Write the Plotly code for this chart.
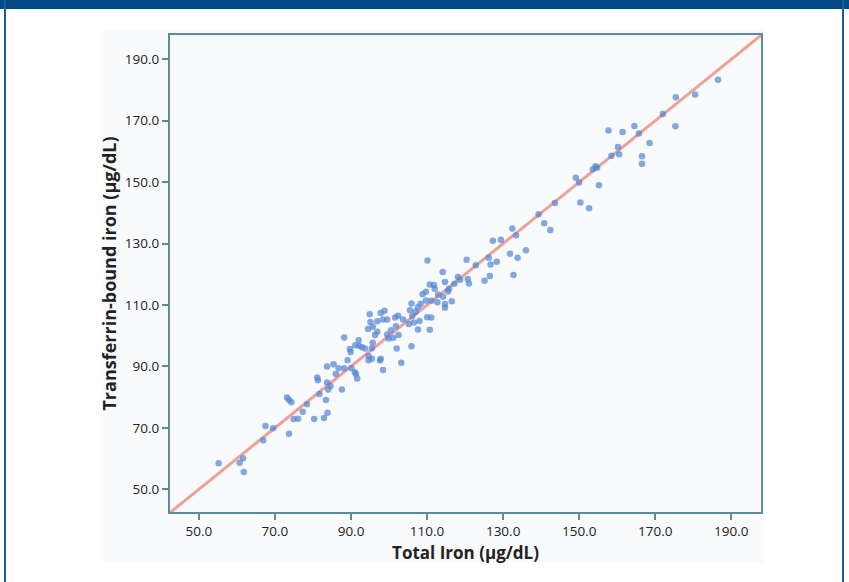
import plotly.graph_objects as go

# Total iron (x) vs transferrin-bound iron (y), µg/dL
total_iron = [
    186.5, 180.5, 175.4, 175.3, 172.0, 164.5, 161.4, 157.7, 165.7, 168.5,
    160.2, 158.5, 160.5, 166.5, 166.5, 154.3, 153.6, 154.7, 155.2,
    149.1, 150.0, 143.6, 150.3, 152.6, 139.3, 140.8, 142.4, 132.4, 133.4,
    127.3, 129.4, 136.0, 131.8, 133.8, 126.2, 126.7, 128.3, 125.1, 126.5, 132.7,
    110.1, 120.4, 122.8, 114.1, 120.7, 121.0, 118.1, 118.7, 117.2, 114.7,
    110.7, 111.8, 112.0, 115.8, 115.5, 109.7, 108.8, 114.2, 112.9, 116.5,
    114.7, 114.7, 112.7, 111.1, 109.7, 108.3, 105.9, 107.6, 105.5, 107.0,
    102.4, 101.6, 106.1, 110.0, 111.1, 108.0, 106.5, 105.2, 101.8, 107.6,
    110.7, 100.5, 102.5, 101.1, 102.0, 105.9, 103.7, 103.2,
    94.9, 97.8, 98.8, 95.1, 96.9, 98.4, 99.5, 94.5, 95.7, 96.9,
    96.3, 99.5, 99.9, 88.2, 92.0, 91.1, 92.1, 95.7, 95.5, 89.7,
    89.9, 92.9, 93.7, 94.6, 95.5, 94.6, 97.8, 97.6, 98.4, 89.1,
    85.4, 86.7, 83.7, 88.2, 90.1, 91.0, 91.3, 91.6, 86.0, 81.1,
    81.3, 83.7, 84.6, 84.0, 81.7, 87.6, 83.4, 78.4,
    55.2, 60.7, 61.6, 61.8, 66.9, 67.5, 69.5, 73.7, 73.2, 73.7,
    74.3, 74.9, 76.1, 77.3, 80.3, 82.9, 83.8,
]
transferrin_iron = [
    183.3, 178.5, 177.6, 168.2, 172.2, 168.3, 166.3, 166.8, 165.8, 162.7,
    161.4, 158.6, 159.1, 158.4, 156.0, 155.2, 154.2, 154.7, 149.0,
    151.4, 149.9, 143.2, 143.4, 141.5, 139.5, 136.6, 134.4, 134.9, 132.7,
    130.9, 131.2, 127.8, 126.7, 125.4, 125.4, 123.2, 124.1, 117.9, 119.4, 119.8,
    124.5, 124.7, 122.9, 120.7, 118.5, 117.0, 119.1, 118.2, 116.9, 117.5,
    116.7, 116.5, 115.3, 115.3, 114.4, 114.3, 113.5, 112.7, 113.4, 111.2,
    110.3, 109.1, 110.9, 111.4, 111.5, 110.4, 110.5, 109.3, 108.3, 107.8,
    106.5, 105.9, 106.4, 106.0, 105.9, 104.8, 104.3, 103.8, 103.1, 102.0,
    101.9, 101.8, 100.2, 99.3, 95.8, 96.6, 105.3, 91.2,
    107.0, 107.4, 108.1, 104.5, 104.7, 105.3, 105.3, 102.2, 102.9, 101.3,
    100.2, 100.4, 99.1, 99.4, 98.5, 96.9, 96.7, 97.7, 95.9, 95.7,
    94.7, 96.2, 95.8, 93.4, 92.5, 92.0, 92.5, 91.9, 88.8, 92.0,
    90.7, 89.4, 90.0, 89.4, 89.4, 88.1, 87.5, 86.1, 87.5, 86.4,
    85.5, 84.8, 83.6, 82.5, 81.0, 82.5, 79.1, 77.7,
    58.5, 58.6, 60.1, 55.6, 66.0, 70.6, 69.9, 68.1, 79.9, 79.1,
    78.3, 72.9, 73.0, 75.2, 72.9, 73.2, 74.9,
]
identity_line = [40.0, 200.0]
tick_vals = [50, 70, 90, 110, 130, 150, 170, 190]
x_title = "Total Iron (μg/dL)"
y_title = "Transferrin-bound iron (μg/dL)"

fig = go.Figure()
fig.add_trace(go.Scatter(
    x=identity_line, y=identity_line, mode="lines",
    line=dict(color="rgba(240,150,140,0.9)", width=3),
    hoverinfo="skip", showlegend=False,
))
fig.add_trace(go.Scatter(
    x=total_iron, y=transferrin_iron, mode="markers",
    marker=dict(size=6.5, color="rgba(85,135,212,0.72)", line=dict(width=0)),
    showlegend=False,
))

L, R, T, B = 170, 761, 35, 512
W, H = 849, 582
pw, ph = R - L, B - T
def px(x): return (x - L) / pw
def py(y): return (B - y) / ph

axis_common = dict(
    showgrid=False, zeroline=False, showline=True, linecolor="#5f8a99", linewidth=2,
    mirror=True, ticks="outside", ticklen=6, tickwidth=2, tickcolor="#5f8a99",
    tickvals=tick_vals, tickformat=".1f",
    tickfont=dict(family="Open Sans, sans-serif", size=13.5, color="#222222"),
)

fig.update_layout(
    width=W, height=H,
    margin=dict(l=L, r=W - R, t=T, b=H - B),
    paper_bgcolor="white",
    plot_bgcolor="#ebebed",
    xaxis=dict(range=[42.4, 197.8],
               title=dict(text=x_title, standoff=8,
                          font=dict(family="Open Sans, sans-serif", size=17, color="#222222", weight="bold")),
               **axis_common),
    yaxis=dict(range=[42.6, 197.9],
               title=dict(text=y_title, standoff=4,
                          font=dict(family="Open Sans, sans-serif", size=18, color="#222222", weight="bold")),
               **axis_common),
    shapes=[
        dict(type="rect", xref="paper", yref="paper", layer="below",
             x0=px(103), x1=px(764), y0=py(562), y1=py(30),
             fillcolor="#f9fafc", line=dict(width=0)),
        dict(type="rect", xref="paper", yref="paper",
             x0=px(0), x1=px(W), y0=py(9), y1=py(0),
             fillcolor="#004a87", line=dict(width=0)),
        dict(type="line", xref="paper", yref="paper",
             x0=px(5), x1=px(5), y0=py(0), y1=py(H),
             line=dict(color="#1f5a96", width=2)),
        dict(type="line", xref="paper", yref="paper",
             x0=px(843), x1=px(843), y0=py(0), y1=py(H),
             line=dict(color="#1f5a96", width=2)),
    ],
)

fig.write_html("out.html", config={"displayModeBar": False},
               post_script="document.body.style.margin='0';")
